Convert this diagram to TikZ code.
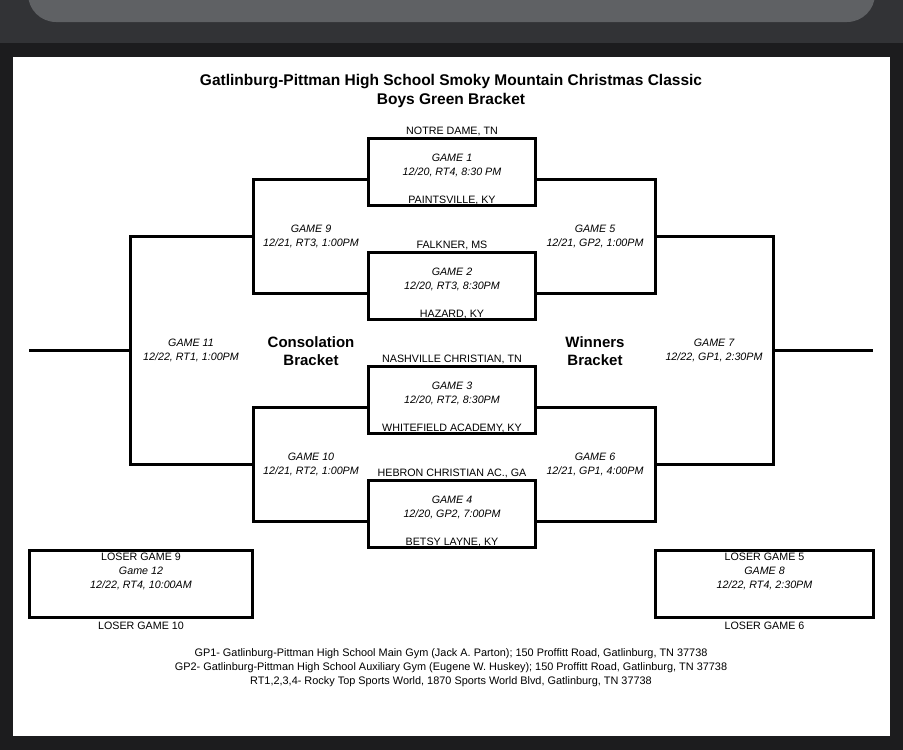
\documentclass[tikz,border=0pt]{standalone}
\usepackage{fontspec}
\setmainfont{Liberation Sans}
\usepackage{tikz}
\usetikzlibrary{positioning}
\definecolor{screenbg}{HTML}{1C1C1E}
\definecolor{bandgray}{HTML}{323336}
\definecolor{bargray}{HTML}{5F6164}
\tikzstyle{gamebox}=[rectangle, draw, line width=3pt, minimum width=167pt, minimum height=67pt, inner sep=0pt]
\tikzstyle{team}=[font=\fontsize{10.7}{12}\selectfont, inner sep=0pt]
\tikzstyle{info}=[font=\fontsize{10.7}{14}\selectfont\itshape, align=center, inner sep=0pt]
\tikzstyle{head}=[font=\fontsize{15.5}{19}\selectfont\bfseries, align=center, inner sep=0pt]
\tikzstyle{line}=[line width=3pt, line join=miter]

\begin{document}
\begin{tikzpicture}[x=1pt, y=-1pt]

\useasboundingbox (0,0) rectangle (903,750);
\fill[screenbg] (0,0) rectangle (903,750);
\fill[bandgray] (0,0) rectangle (903,43);
\fill[bargray, rounded corners=28pt] (28,-40) rectangle (875,22);
\fill[white] (13,57) rectangle (890,736);

\node[head] (title) at (451,91) {Gatlinburg-Pittman High School Smoky Mountain Christmas Classic\\Boys Green Bracket};

\node[gamebox] (g1) at (452,172) {};
\node[gamebox] (g2) at (452,286) {};
\node[gamebox] (g3) at (452,400) {};
\node[gamebox] (g4) at (452,514) {};
\node[gamebox, minimum width=223pt] (g12) at (141,584) {};
\node[gamebox, minimum width=218pt] (g8) at (764.5,584) {};

\node[team, above=1pt of g1] {NOTRE DAME, TN};
\node[team, anchor=base] at ([yshift=3.5pt]g1.south) {PAINTSVILLE, KY};
\node[info] at ([yshift=7pt]g1.center) {GAME 1\\12/20, RT4, 8:30 PM};
\node[team, above=1pt of g2] {FALKNER, MS};
\node[team, anchor=base] at ([yshift=3.5pt]g2.south) {HAZARD, KY};
\node[info] at ([yshift=7pt]g2.center) {GAME 2\\12/20, RT3, 8:30PM};
\node[team, above=1pt of g3] {NASHVILLE CHRISTIAN, TN};
\node[team, anchor=base] at ([yshift=3.5pt]g3.south) {WHITEFIELD ACADEMY, KY};
\node[info] at ([yshift=7pt]g3.center) {GAME 3\\12/20, RT2, 8:30PM};
\node[team, above=1pt of g4] {HEBRON CHRISTIAN AC., GA};
\node[team, anchor=base] at ([yshift=3.5pt]g4.south) {BETSY LAYNE, KY};
\node[info] at ([yshift=7pt]g4.center) {GAME 4\\12/20, GP2, 7:00PM};

\node[info] at ([yshift=12.5pt]g12.center) {\upshape LOSER GAME 9\\Game 12\\12/22, RT4, 10:00AM};
\node[team, below=3pt of g12] {LOSER GAME 10};
\node[info] at ([yshift=12.5pt]g8.center) {\upshape LOSER GAME 5\\GAME 8\\12/22, RT4, 2:30PM};
\node[team, below=3pt of g8] {LOSER GAME 6};

\coordinate (c9) at (253,236);
\coordinate (c10) at (253,464);
\coordinate (c11) at (130,350);
\coordinate (e11) at (29,350);
\coordinate (c5) at (655,236);
\coordinate (c6) at (655,464);
\coordinate (c7) at (773,350);
\coordinate (e7) at (873,350);

\node[info] (n9) at (311,236.5) {GAME 9\\12/21, RT3, 1:00PM};
\node[info] (n10) at (311,464.5) {GAME 10\\12/21, RT2, 1:00PM};
\node[info] (n11) at (191,350) {GAME 11\\12/22, RT1, 1:00PM};
\node[info] (n5) at (595,236.5) {GAME 5\\12/21, GP2, 1:00PM};
\node[info] (n6) at (595,464.5) {GAME 6\\12/21, GP1, 4:00PM};
\node[info] (n7) at (714,350) {GAME 7\\12/22, GP1, 2:30PM};
\node[head, font=\fontsize{15}{18}\selectfont\bfseries] (cons) at (311,351) {Consolation\\Bracket};
\node[head, font=\fontsize{15}{18}\selectfont\bfseries] (wins) at (595,351) {Winners\\Bracket};

\draw[line] ([yshift=-7pt]g1.west) -| (c9) |- ([yshift=-7pt]g2.west);
\draw[line] ([yshift=-7pt]g3.west) -| (c10) |- ([yshift=-7pt]g4.west);
\draw[line] (c9) -| (c11) |- (c10);
\draw[line] (c11) -- (e11);
\draw[line] ([yshift=-7pt]g1.east) -| (c5) |- ([yshift=-7pt]g2.east);
\draw[line] ([yshift=-7pt]g3.east) -| (c6) |- ([yshift=-7pt]g4.east);
\draw[line] (c5) -| (c7) |- (c6);
\draw[line] (c7) -- (e7);

\node[info, font=\fontsize{10.9}{14}\selectfont] (foot) at (451,668) {GP1- Gatlinburg-Pittman High School Main Gym (Jack A. Parton); 150 Proffitt Road, Gatlinburg, TN 37738\\GP2- Gatlinburg-Pittman High School Auxiliary Gym (Eugene W. Huskey); 150 Proffitt Road, Gatlinburg, TN 37738\\RT1,2,3,4- Rocky Top Sports World, 1870 Sports World Blvd, Gatlinburg, TN 37738};

\end{tikzpicture}
\end{document}
